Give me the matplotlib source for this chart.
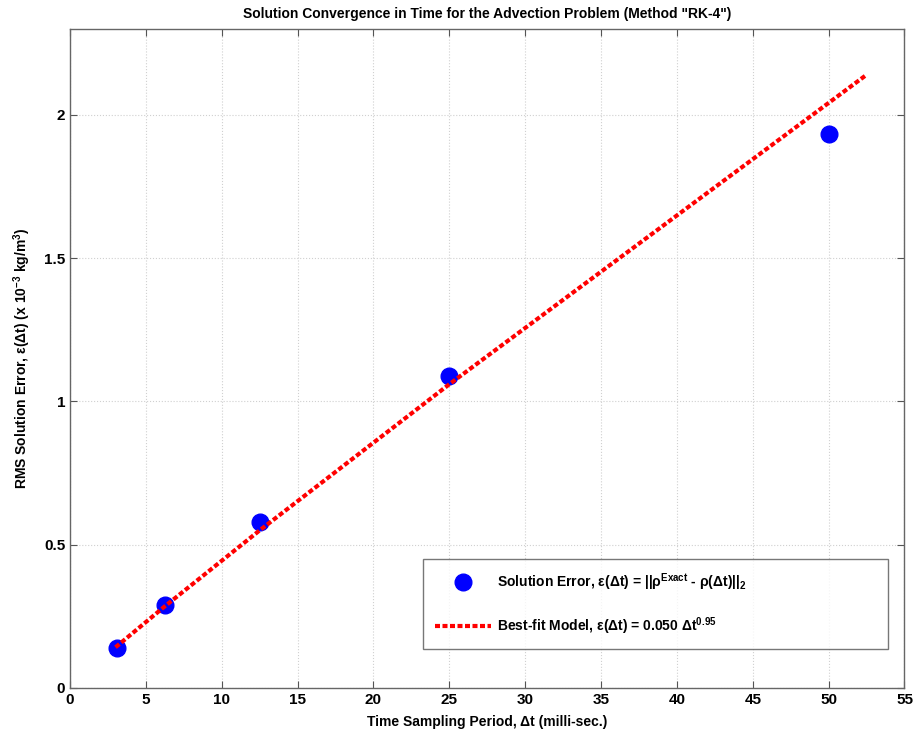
import matplotlib
matplotlib.use("Agg")
import matplotlib.pyplot as plt

# Data
dt = [3.125, 6.25, 12.5, 25.0, 50.0]
rms_err = [0.14, 0.29, 0.58, 1.09, 1.935]
fit_x = [3.0, 6.25, 12.5, 25.0, 52.5]
fit_y = [0.142, 0.285, 0.55, 1.06, 2.14]
xticks = [0, 5, 10, 15, 20, 25, 30, 35, 40, 45, 50, 55]
yticks = [0, 0.5, 1, 1.5, 2]
ytick_labels = ["0", "0.5", "1", "1.5", "2"]

plt.rcParams['font.family'] = ['Liberation Sans', 'DejaVu Sans']
plt.rcParams['font.weight'] = 'bold'
plt.rcParams['mathtext.fontset'] = 'custom'
plt.rcParams['mathtext.rm'] = 'Liberation Sans:bold'
plt.rcParams['mathtext.bf'] = 'Liberation Sans:bold'
plt.rcParams['mathtext.it'] = 'Liberation Sans:bold'
plt.rcParams['mathtext.default'] = 'bf'

fig = plt.figure(figsize=(9.14, 7.38), dpi=100)
ax = fig.add_axes([0.0766, 0.0678, 0.913, 0.893])

ax.plot(dt, rms_err, 'o', color='#0000ff', markersize=12, zorder=3,
        label=r"Solution Error, ε(Δt) = ||ρ$^{\mathbf{Exact}}$ - ρ(Δt)||$_{\mathbf{2}}$")
ax.plot(fit_x, fit_y, color='#ff0000', linestyle=(0, (1.2, 0.6)), linewidth=3, zorder=4,
        label=r"Best-fit Model, ε(Δt) = 0.050 Δt$^{\mathbf{0.95}}$")

ax.set_xlim(0, 55)
ax.set_ylim(0, 2.3)
ax.set_xticks(xticks)
ax.set_yticks(yticks)
ax.set_yticklabels(ytick_labels)
ax.tick_params(direction='in', top=True, right=True, labelsize=11, length=5, color='#555555')
for lab in ax.get_xticklabels() + ax.get_yticklabels():
    lab.set_fontweight('bold')
ax.grid(True, linestyle=':', color='#d0d0d0', linewidth=0.8)
for s in ax.spines.values():
    s.set_color('#666666')
    s.set_linewidth(1.0)

ax.set_title('Solution Convergence in Time for the Advection Problem (Method "RK-4")',
             fontsize=10, fontweight='bold', pad=8)
ax.set_xlabel('Time Sampling Period, Δt (milli-sec.)', fontsize=10, fontweight='bold', labelpad=6)
ax.set_ylabel(r'RMS Solution Error, ε(Δt) (x 10$^{\mathbf{-3}}$ kg/m$^{\mathbf{3}}$)',
              fontsize=10, fontweight='bold', labelpad=8)

leg = ax.legend(loc='lower right', bbox_to_anchor=(0.423, 0.059, 0.557, 0.144),
                mode='expand', borderaxespad=0, fontsize=10, frameon=True, fancybox=False,
                edgecolor='#555555', handlelength=4, labelspacing=1.6,
                borderpad=0.9, handletextpad=0.4)
leg.get_frame().set_linewidth(1.0)
for t in leg.get_texts():
    t.set_fontweight('bold')

fig.savefig('out.png', dpi=100)
